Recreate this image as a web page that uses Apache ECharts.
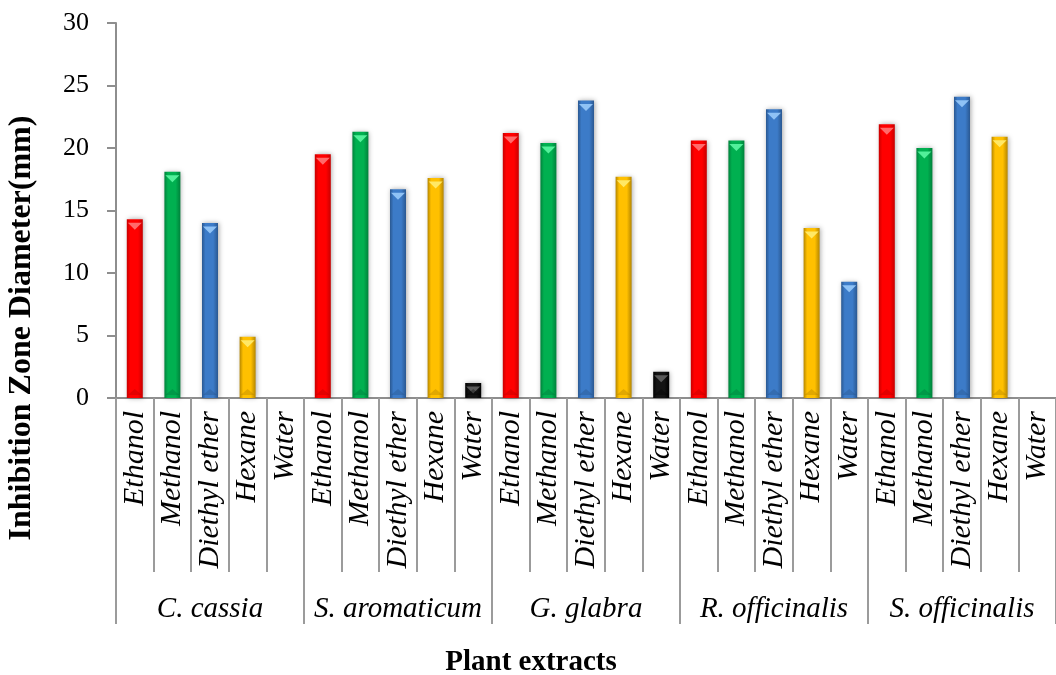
<!DOCTYPE html>
<html>
<head>
<meta charset="utf-8">
<title>Inhibition zone diameter by plant extract and solvent</title>
<script src="https://cdn.jsdelivr.net/npm/echarts@6/dist/echarts.min.js"></script>
<style>
  html, body { margin: 0; padding: 0; background: #ffffff; }
  #chart { width: 1056px; height: 675px; }
</style>
</head>
<body>
<div id="chart"></div>
<script>
// Plant extracts (outer category level) and solvents (inner level)
const plantGroups = ['C. cassia', 'S. aromaticum', 'G. glabra', 'R. officinalis', 'S. officinalis'];
const solvents = ['Ethanol', 'Methanol', 'Diethyl ether', 'Hexane', 'Water'];

// Inhibition zone diameter (mm), one value per solvent, in solvent order
const cCassia = [14.3, 18.1, 14.0, 4.9, 0];
const sAromaticum = [19.5, 21.3, 16.7, 17.6, 1.2];
const gGlabra = [21.2, 20.4, 23.8, 17.7, 2.1];
const rOfficinalis = [20.6, 20.6, 23.1, 13.6, 9.3];
const sOfficinalis = [21.9, 20.0, 24.1, 20.9, 0];
const groupValues = [cCassia, sAromaticum, gGlabra, rOfficinalis, sOfficinalis];

// Value axis range
const yMin = 0, yMax = 30, yStep = 5;

// Bar shading per solvent: edge, face, highlight (bevel)
const solventStyle = {
  'Ethanol':       { edge: '#c80000', face: '#ff0000', light: '#ff6b6b', foot: '#b00000' },
  'Methanol':      { edge: '#00813b', face: '#00b050', light: '#52f09a', foot: '#00703a' },
  'Diethyl ether': { edge: '#2a5891', face: '#3c7bc8', light: '#8fc2f5', foot: '#254f84' },
  'Hexane':        { edge: '#b58600', face: '#ffc000', light: '#ffe866', foot: '#a87c00' },
  'Water':         { edge: '#000000', face: '#141414', light: '#5a5a5a', foot: '#000000' }
};
// The R. officinalis water bar is drawn in the ether blue
const colorOverride = { 'R. officinalis|Water': 'Diethyl ether' };

const serif = '"Liberation Serif", "Times New Roman", serif';

// Flatten into one category per (plant, solvent) pair
const categoryKeys = [];
const barData = [];
const capData = [];
const footData = [];
plantGroups.forEach((g, gi) => {
  solvents.forEach((s, si) => {
    const key = g + '|' + s;
    const v = groupValues[gi][si];
    const st = solventStyle[colorOverride[key] || s];
    categoryKeys.push(key);
    barData.push({
      value: v,
      itemStyle: {
        color: {
          type: 'linear', x: 0, y: 0, x2: 1, y2: 0,
          colorStops: [
            { offset: 0, color: st.edge },
            { offset: 0.22, color: st.face },
            { offset: 0.7, color: st.face },
            { offset: 1, color: st.edge }
          ]
        }
      }
    });
    capData.push(v > 0 ? { value: v, itemStyle: { color: st.light } } : '-');
    footData.push(v > 0 ? { value: v, itemStyle: { color: st.foot, opacity: 0.35 } } : '-');
  });
});

const axisGray = '#8e8e8e';

const option = {
  animation: false,
  backgroundColor: '#ffffff',
  grid: { left: 116, right: -11, top: 23, bottom: 277, containLabel: false },
  xAxis: [
    {
      type: 'category',
      position: 'bottom',
      data: categoryKeys,
      boundaryGap: true,
      axisLine: { show: true, lineStyle: { color: axisGray, width: 2 } },
      axisTick: { show: true, interval: 0, length: 174, lineStyle: { color: '#9b9b9b', width: 2 } },
      axisLabel: {
        interval: 0,
        rotate: 90,
        margin: 13,
        formatter: (k) => k.split('|')[1],
        fontFamily: serif,
        fontStyle: 'italic',
        fontSize: 30,
        color: '#000000'
      },
      splitLine: { show: false }
    },
    {
      type: 'category',
      position: 'bottom',
      data: plantGroups,
      boundaryGap: true,
      axisLine: { show: false },
      axisTick: { show: true, interval: 0, length: 226, lineStyle: { color: '#9b9b9b', width: 2 } },
      axisLabel: {
        interval: 0,
        margin: 197,
        fontFamily: serif,
        fontStyle: 'italic',
        fontSize: 29,
        color: '#000000'
      },
      splitLine: { show: false }
    }
  ],
  yAxis: {
    type: 'value',
    min: yMin,
    max: yMax,
    interval: yStep,
    axisLine: { show: true, lineStyle: { color: axisGray, width: 2 } },
    axisTick: { show: true, length: 9, lineStyle: { color: axisGray, width: 2 } },
    axisLabel: { margin: 27, fontFamily: serif, fontSize: 26, color: '#000000' },
    splitLine: { show: false }
  },
  series: [
    {
      name: 'Inhibition zone',
      type: 'bar',
      xAxisIndex: 0,
      barWidth: 16,
      data: barData,
      itemStyle: {
        shadowBlur: 5,
        shadowColor: 'rgba(0,0,0,0.35)',
        shadowOffsetX: 1,
        shadowOffsetY: 0
      },
      z: 2
    },
    {
      // bevel highlight at the top of each bar
      name: 'cap',
      type: 'pictorialBar',
      xAxisIndex: 0,
      barWidth: 16,
      symbol: 'triangle',
      symbolRotate: 180,
      symbolSize: [14, 7],
      symbolPosition: 'end',
      symbolOffset: [0, '50%'],
      data: capData,
      silent: true,
      z: 3
    },
    {
      // darker bevel at the foot of each bar
      name: 'foot',
      type: 'pictorialBar',
      xAxisIndex: 0,
      barWidth: 16,
      symbol: 'triangle',
      symbolSize: [14, 6],
      symbolPosition: 'start',
      symbolOffset: [0, '-50%'],
      data: footData,
      silent: true,
      z: 3
    }
  ],
  graphic: [
    {
      type: 'text',
      x: 22,
      y: 328,
      rotation: Math.PI / 2,
      style: {
        text: 'Inhibition Zone Diameter(mm)',
        font: 'bold 32px ' + serif,
        fill: '#000000',
        align: 'center',
        verticalAlign: 'middle'
      }
    },
    {
      type: 'text',
      x: 531,
      y: 663,
      style: {
        text: 'Plant extracts',
        font: 'bold 29px ' + serif,
        fill: '#000000',
        align: 'center',
        verticalAlign: 'middle'
      }
    }
  ]
};

const chart = echarts.init(document.getElementById('chart'), null, { renderer: 'canvas' });
chart.setOption(option);
</script>
</body>
</html>
